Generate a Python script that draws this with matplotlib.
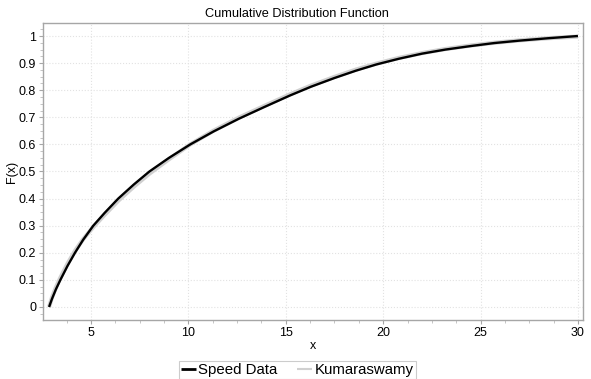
import matplotlib
matplotlib.use("Agg")
import matplotlib.pyplot as plt
from matplotlib.ticker import MultipleLocator

plt.rcParams['font.family'] = ['Liberation Sans', 'DejaVu Sans']

# values
speed_x = [2.85, 3.0, 3.2, 3.43, 3.8, 4.18, 4.6, 5.12, 5.7, 6.4, 7.2, 8.0,
           9.0, 10.1, 11.3, 12.6, 13.9, 15.2, 16.3, 17.5, 18.6, 19.65,
           20.8, 22.0, 23.2, 24.5, 25.7, 27.0, 28.5, 30.0]
speed_F = [0.0, 0.03, 0.065, 0.10, 0.152, 0.20, 0.248, 0.30, 0.347, 0.40,
           0.452, 0.50, 0.55, 0.60, 0.648, 0.695, 0.738, 0.78, 0.813, 0.845,
           0.872, 0.895, 0.916, 0.935, 0.95, 0.963, 0.974, 0.983, 0.992, 1.0]

kuma_x = speed_x
kuma_F = [0.0, 0.035, 0.072, 0.108, 0.16, 0.207, 0.25, 0.295, 0.34, 0.392,
          0.444, 0.492, 0.545, 0.60, 0.651, 0.699, 0.742, 0.784, 0.817,
          0.849, 0.876, 0.898, 0.919, 0.937, 0.952, 0.965, 0.975, 0.984,
          0.992, 0.998]

x_ticks = [5, 10, 15, 20, 25, 30]
y_ticks = [0, 0.1, 0.2, 0.3, 0.4, 0.5, 0.6, 0.7, 0.8, 0.9, 1]
y_labels = ['0', '0.1', '0.2', '0.3', '0.4', '0.5', '0.6', '0.7', '0.8', '0.9', '1']

fig = plt.figure(figsize=(5.91, 3.79), dpi=100)
ax = fig.add_axes([0.0728, 0.1557, 0.9137, 0.7836])

ax.plot(kuma_x, kuma_F, color='#d0d0d0', linewidth=3.0, label='Kumaraswamy',
        solid_capstyle='butt', solid_joinstyle='round', zorder=2)
ax.plot(speed_x, speed_F, color='black', linewidth=1.7, label='Speed Data',
        solid_capstyle='butt', solid_joinstyle='round', zorder=3)

ax.set_xlim(2.54, 30.26)
ax.set_ylim(-0.048, 1.048)
ax.set_xticks(x_ticks)
ax.set_yticks(y_ticks)
ax.set_yticklabels(y_labels)
ax.xaxis.set_minor_locator(MultipleLocator(1.25))
ax.yaxis.set_minor_locator(MultipleLocator(0.025))

ax.grid(True, which='major', color='#e2e2e2', linestyle=':', linewidth=0.8)
ax.set_axisbelow(True)
for s in ax.spines.values():
    s.set_color('#a6a6a6')
    s.set_linewidth(1.0)
ax.tick_params(axis='both', which='major', labelsize=9, length=3,
               color='#a6a6a6', pad=2)
ax.tick_params(axis='both', which='minor', length=2, color='#bbbbbb')

fig.text(0.503, 0.963, 'Cumulative Distribution Function', fontsize=9.2,
         ha='center', va='center')
ax.set_xlabel('x', fontsize=9, labelpad=1)
ax.set_ylabel('F(x)', fontsize=9)
ax.yaxis.set_label_coords(-0.047, 0.5)

handles, labels = ax.get_legend_handles_labels()
leg = fig.legend(handles[::-1], labels[::-1], loc='lower center',
                 bbox_to_anchor=(0.503, 0.0), ncol=2, fontsize=10.8,
                 frameon=True, fancybox=False, handlelength=1.0,
                 handletextpad=0.15, columnspacing=1.3, borderpad=0.15,
                 borderaxespad=0.0)
leg.get_frame().set_edgecolor('#c0c0c0')
leg.get_frame().set_linewidth(0.8)
leg.get_lines()[0].set_linewidth(2.0)
leg.get_lines()[1].set_linewidth(1.5)

fig.savefig('out.png', dpi=100)
